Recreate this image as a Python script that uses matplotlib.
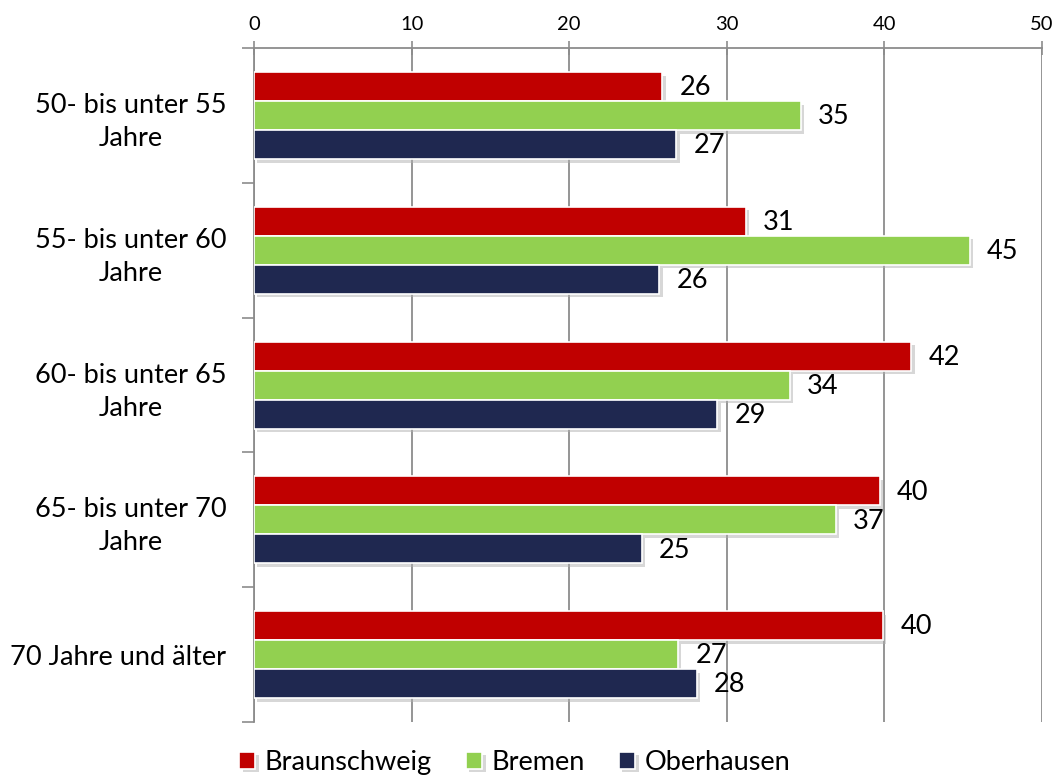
import matplotlib.pyplot as plt
import matplotlib.patheffects as pe
import numpy as np

plt.rcParams["font.family"] = ["Lato", "DejaVu Sans"]

categories = ["50- bis unter 55\nJahre", "55- bis unter 60\nJahre",
              "60- bis unter 65\nJahre", "65- bis unter 70\nJahre",
              "70 Jahre und älter"]
braunschweig = [25.9, 31.2, 41.7, 39.7, 39.9]
bremen = [34.7, 45.4, 34.0, 36.9, 26.9]
oberhausen = [26.8, 25.7, 29.4, 24.6, 28.1]

series = [("Braunschweig", braunschweig, "#C00000"),
          ("Bremen", bremen, "#92D050"),
          ("Oberhausen", oberhausen, "#1F2850")]

fig = plt.figure(figsize=(10.58, 7.78), dpi=100)
ax = fig.add_axes([0.240, 0.072, 0.745, 0.866])

y = np.arange(len(categories))
h = 0.215
shadow = [pe.SimplePatchShadow(offset=(2.5, -2.5), shadow_rgbFace="#b0b0b0", alpha=0.5),
          pe.Normal()]

for i, (name, vals, col) in enumerate(series):
    pos = y + (i - 1) * h
    bars = ax.barh(pos, vals, height=h, color=col, edgecolor="white",
                   linewidth=1.2, label=name, zorder=3)
    for b in bars:
        b.set_path_effects(shadow)
    for p, v in zip(pos, vals):
        ax.text(v + 1.1, p + 0.01, f"{v:.0f}", va="center", ha="left",
                fontsize=19.5, color="black", zorder=4)

ax.set_xlim(0, 50)
ax.set_ylim(4.5, -0.5)
ax.xaxis.tick_top()
ax.set_xticks(range(0, 51, 10))
ax.tick_params(axis="x", direction="inout", length=10, width=1.2,
               color="#8c8c8c", labelsize=14.5, pad=6)
ax.set_yticks(y)
ax.set_yticklabels(categories, fontsize=19.5, ha="right", multialignment="center",
                   linespacing=1.4)
ax.tick_params(axis="y", which="major", length=0, pad=20)
ax.set_yticks(np.arange(-0.5, 5, 1), minor=True)
ax.tick_params(axis="y", which="minor", direction="out", length=9,
               width=1.2, color="#8c8c8c")

ax.grid(axis="x", color="#8c8c8c", linewidth=1.3, zorder=0)
ax.set_axisbelow(True)
for side in ["right", "bottom"]:
    ax.spines[side].set_visible(False)
for side in ["top", "left"]:
    ax.spines[side].set_color("#8c8c8c")
    ax.spines[side].set_linewidth(1.3)

ax.legend(loc="upper center", bbox_to_anchor=(0.331, -0.005), ncol=3,
          frameon=False, fontsize=19.5, handlelength=0.6, handleheight=0.6,
          handletextpad=0.35, columnspacing=1.25)

fig.savefig("out.png", dpi=100)
